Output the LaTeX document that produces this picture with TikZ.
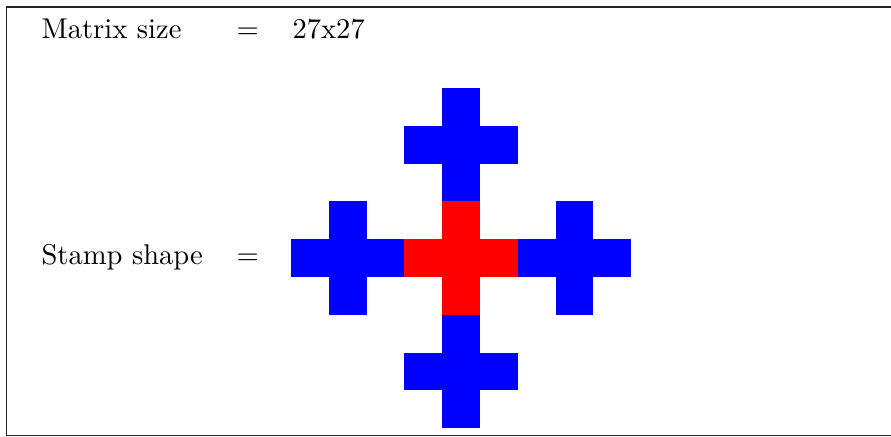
\documentclass[tikz,border=0pt]{standalone}
\usetikzlibrary{positioning}

\begin{document}
\begin{tikzpicture}[
  x=0.35pt, y=-0.35pt,
  lbl/.style={anchor=base west, inner sep=0pt, font=\normalsize},
  frame/.style={draw=black!85, line width=0.4pt}
]
\useasboundingbox (0,0) rectangle (891,437);
\draw[frame] (6.5,7) rectangle (905,435.5);

\node[lbl] (msize) at (41,39) {Matrix size};
\node[lbl] (meq) at (236,39) {$=$};
\node[lbl] (mval) at (292,39) {27x27};

\node[lbl] (sshape) at (41,264) {Stamp shape};
\node[lbl] (seq) at (236,264) {$=$};

% stamp: centre cross in red, four copies around it in blue
\begin{scope}[shift={(461,258)}, x=13.23pt, y=-13.23pt]
  \foreach \cx/\cy/\col in {0/-3/blue, -3/0/blue, 3/0/blue, 0/3/blue, 0/0/red} {
    \fill[\col] (\cx-1.5,\cy-0.5) rectangle (\cx+1.5,\cy+0.5);
    \fill[\col] (\cx-0.5,\cy-1.5) rectangle (\cx+0.5,\cy+1.5);
  }
\end{scope}
\end{tikzpicture}
\end{document}
